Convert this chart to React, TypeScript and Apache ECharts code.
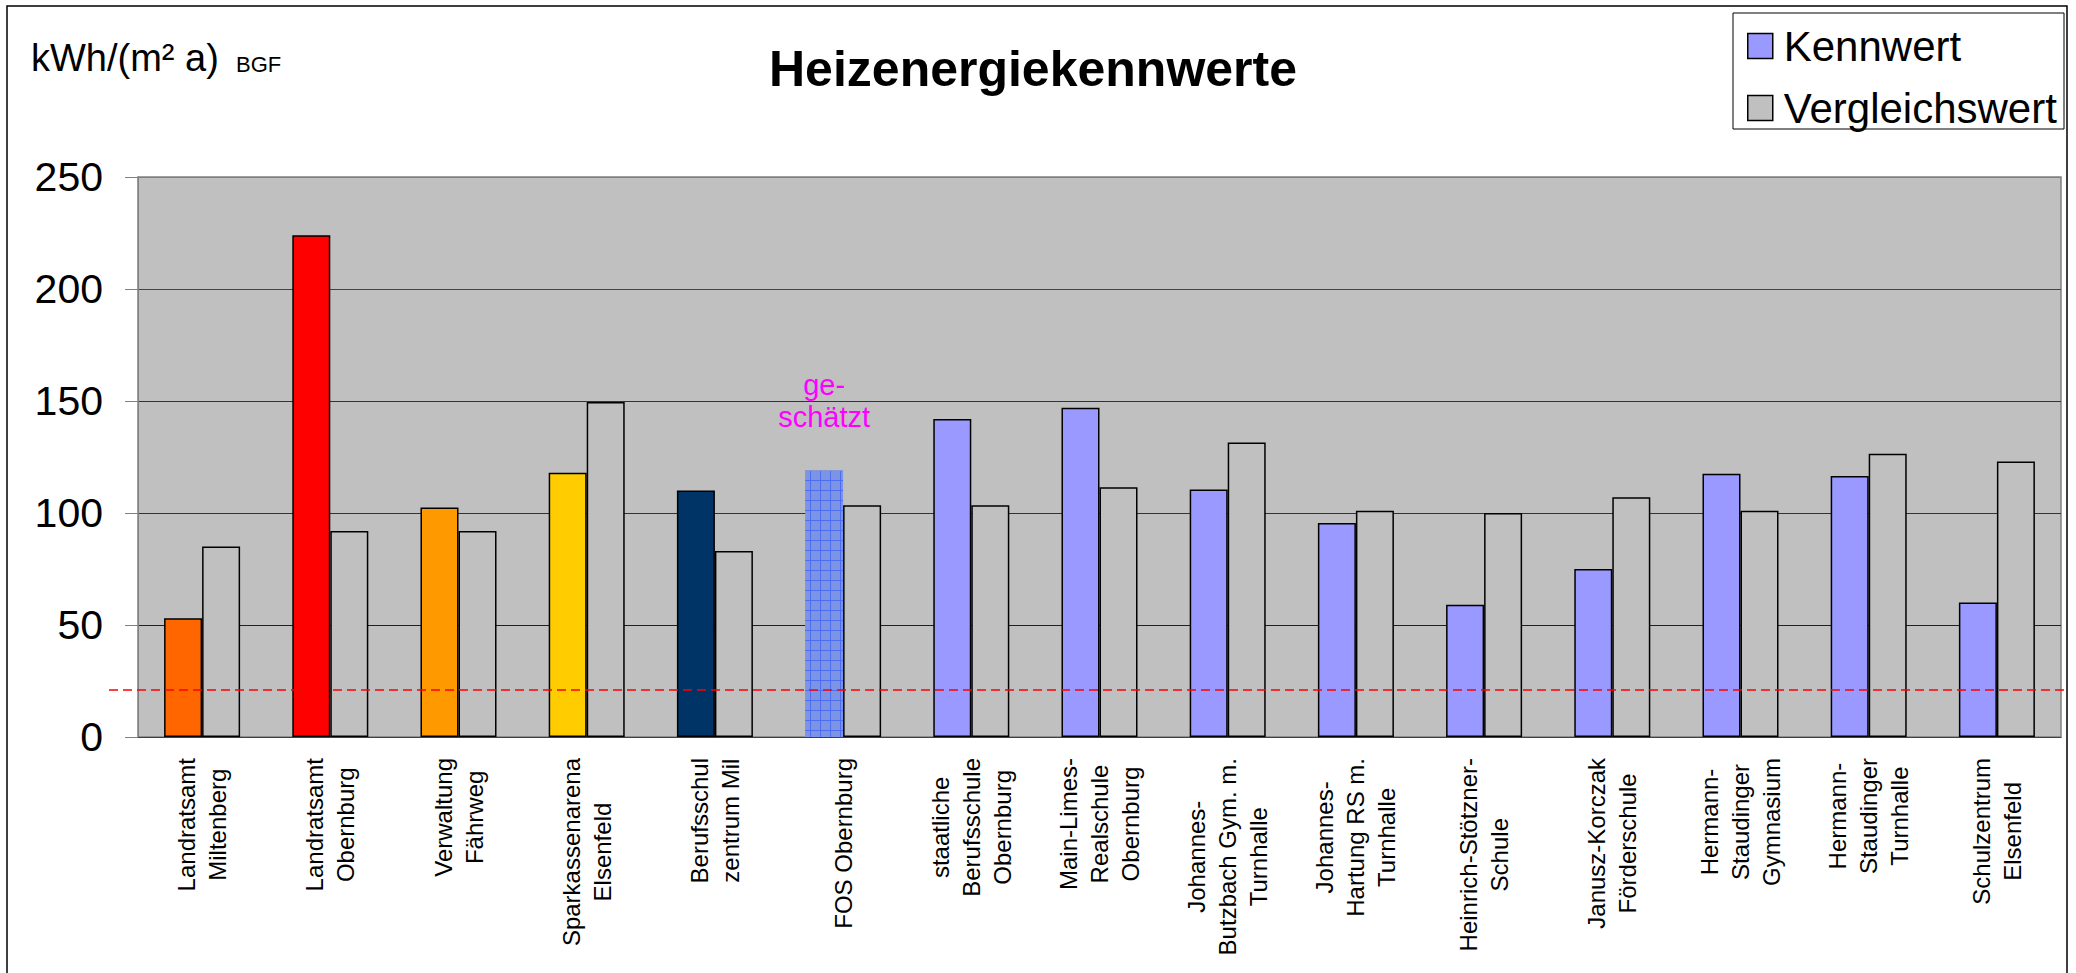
import React, { useEffect, useRef } from 'react';
import * as echarts from 'echarts';

const categories = [
  'Landratsamt\nMiltenberg',
  'Landratsamt\nObernburg',
  'Verwaltung\nFährweg',
  'Sparkassenarena\nElsenfeld',
  'Berufsschul\nzentrum Mil',
  'FOS Obernburg',
  'staatliche\nBerufsschule\nObernburg',
  'Main-Limes-\nRealschule\nObernburg',
  'Johannes-\nButzbach Gym. m.\nTurnhalle',
  'Johannes-\nHartung RS m.\nTurnhalle',
  'Heinrich-Stötzner-\nSchule',
  'Janusz-Korczak\nFörderschule',
  'Hermann-\nStaudinger\nGymnasium',
  'Hermann-\nStaudinger\nTurnhalle',
  'Schulzentrum\nElsenfeld',
];

const kennwert = [53, 224, 102.5, 118, 110, 119, 142, 147, 110.5, 95.5, 59, 75, 117.5, 116.5, 60];
const kennwertColors = [
  '#FF6600', '#FF0000', '#FF9900', '#FFCC00', '#003366', '#7D94E4',
  '#9999FF', '#9999FF', '#9999FF', '#9999FF', '#9999FF', '#9999FF', '#9999FF', '#9999FF', '#9999FF',
];
const vergleichswert = [85, 92, 92, 149.5, 83, 103.5, 103.5, 111.5, 131.5, 101, 100, 107, 101, 126.5, 123];

const seriesNames = ['Kennwert', 'Vergleichswert'];
const yMin = 0;
const yMax = 250;
const yInterval = 50;
const limitValue = 21;
const estimatedIndex = 5;
const estimatedLabel = 'ge-\nschätzt';
const titleText = 'Heizenergiekennwerte';
const unitText = 'kWh/(m² a)';
const unitSubText = 'BGF';

const FONT = 'Liberation Sans, Arial, Helvetica, sans-serif';

export default function App() {
  const ref = useRef<HTMLDivElement>(null);

  useEffect(() => {
    const el = ref.current;
    if (!el) return;
    const chart = echarts.init(el, null, { renderer: 'svg' });

    const cv = document.createElement('canvas');
    cv.width = 10;
    cv.height = 10;
    const ctx = cv.getContext('2d');
    if (ctx) {
      ctx.fillStyle = '#7D94E4';
      ctx.fillRect(0, 0, 10, 10);
      ctx.fillStyle = '#4C6EF2';
      ctx.fillRect(0, 0, 10, 1);
      ctx.fillRect(0, 0, 1, 10);
    }
    const patternFill: any = { image: cv, repeat: 'repeat' };

    const kData = kennwert.map((v, i) => {
      if (i === estimatedIndex) {
        return {
          value: v,
          itemStyle: { color: patternFill, borderWidth: 0 },
          label: {
            show: true,
            position: 'top',
            distance: 37,
            formatter: estimatedLabel,
            color: '#FF00FF',
            fontSize: 29,
            lineHeight: 32,
            fontFamily: FONT,
            align: 'center',
          },
        };
      }
      return { value: v, itemStyle: { color: kennwertColors[i] } };
    });

    const option: any = {
      animation: false,
      backgroundColor: '#FFFFFF',
      textStyle: { fontFamily: FONT },
      legend: {
        orient: 'vertical',
        left: 1747,
        top: 25,
        padding: 0,
        itemWidth: 25,
        itemHeight: 25,
        itemGap: 20,
        icon: 'rect',
        itemStyle: { borderColor: '#000', borderWidth: 1.5 },
        textStyle: { fontSize: 42, lineHeight: 25, fontFamily: FONT, color: '#000', padding: [0, 0, 0, 6] },
        data: seriesNames,
      },
      grid: {
        left: 138,
        right: 15,
        top: 177,
        bottom: 236,
        show: true,
        backgroundColor: '#C0C0C0',
        borderColor: '#808080',
        borderWidth: 1.5,
      },
      xAxis: {
        type: 'category',
        data: categories,
        axisLine: { lineStyle: { color: '#404040', width: 1 } },
        axisTick: { length: 8, lineStyle: { color: '#404040' } },
        axisLabel: {
          interval: 0,
          rotate: 90,
          margin: 21,
          fontSize: 24,
          fontFamily: FONT,
          color: '#000',
          formatter: (v: string) => v.split('\n').map((l) => `{c|${l}}`).join('\n'),
          rich: {
            c: { fontSize: 24, lineHeight: 31, align: 'center', fontFamily: FONT, color: '#000' },
          },
        },
      },
      yAxis: {
        type: 'value',
        min: yMin,
        max: yMax,
        interval: yInterval,
        axisLine: { show: true, lineStyle: { color: '#808080', width: 1 } },
        axisTick: { show: true, length: 13, lineStyle: { color: '#808080' } },
        axisLabel: { fontSize: 41, color: '#000', margin: 35, fontFamily: FONT },
        splitLine: {
          show: true,
          lineStyle: { color: ['#404040', '#202020', '#333', '#333', '#444', '#808080'], width: 1 },
        },
      },
      series: [
        {
          name: seriesNames[0],
          type: 'bar',
          data: kData,
          barGap: '0%',
          barCategoryGap: '40.7%',
          itemStyle: { color: '#9999FF', borderColor: '#000', borderWidth: 1.5 },
        },
        {
          name: seriesNames[1],
          type: 'bar',
          data: vergleichswert,
          barGap: '0%',
          barCategoryGap: '40.7%',
          itemStyle: { color: '#C0C0C0', borderColor: '#000', borderWidth: 1.5 },
        },
      ],
    };
    chart.setOption(option);

    const yLimit = chart.convertToPixel({ yAxisIndex: 0 }, limitValue) as number;

    chart.setOption({
      graphic: [
        {
          type: 'rect',
          shape: { x: 7, y: 6, width: 2060, height: 990 },
          style: { fill: 'none', stroke: '#000', lineWidth: 1.5 },
          silent: true,
          z: 0,
        },
        {
          type: 'rect',
          shape: { x: 1733, y: 13, width: 331, height: 116 },
          style: { fill: 'none', stroke: '#000', lineWidth: 1 },
          silent: true,
        },
        {
          type: 'text',
          x: 1033,
          y: 69,
          style: {
            text: titleText,
            font: `bold 50px ${FONT}`,
            fill: '#000',
            align: 'center',
            verticalAlign: 'middle',
          },
        },
        {
          type: 'text',
          x: 31,
          y: 58,
          style: {
            text: unitText,
            font: `38px ${FONT}`,
            fill: '#000',
            align: 'left',
            verticalAlign: 'middle',
          },
        },
        {
          type: 'text',
          x: 236,
          y: 64,
          style: {
            text: unitSubText,
            font: `22px ${FONT}`,
            fill: '#000',
            align: 'left',
            verticalAlign: 'middle',
          },
        },
        {
          type: 'line',
          shape: { x1: 109, y1: yLimit, x2: 2068, y2: yLimit },
          style: { stroke: '#FF0000', lineWidth: 1.5, lineDash: [9, 5] },
          silent: true,
          z: 10,
        },
      ],
    });

    return () => {
      chart.dispose();
    };
  }, []);

  return (
    <div
      ref={ref}
      style={{ position: 'fixed', left: 0, top: 0, width: 2076, height: 973, background: '#fff' }}
    />
  );
}
